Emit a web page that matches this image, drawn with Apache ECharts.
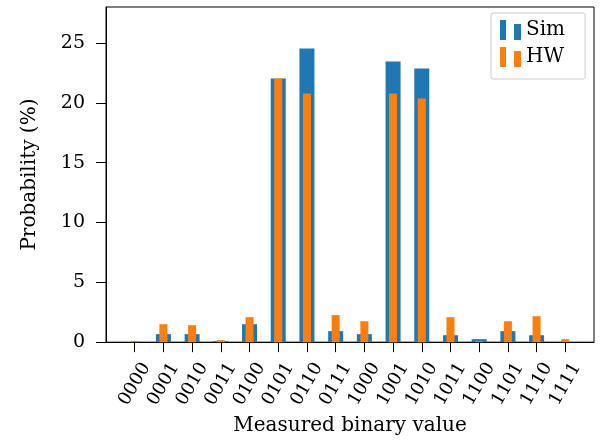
<!DOCTYPE html>
<html>
<head>
<meta charset="utf-8">
<script src="https://cdn.jsdelivr.net/npm/echarts@6/dist/echarts.min.js"></script>
<style>
html,body{margin:0;padding:0;background:#fff;}
#chart{width:612px;height:441px;}
</style>
</head>
<body>
<div id="chart"></div>
<script>
var categories = ['0000','0001','0010','0011','0100','0101','0110','0111','1000','1001','1010','1011','1100','1101','1110','1111'];
var simValues = [0.0, 0.67, 0.67, 0.08, 1.5, 22.03, 24.54, 0.92, 0.67, 23.45, 22.87, 0.58, 0.25, 0.92, 0.58, 0.0];
var hwValues  = [0.1, 1.5, 1.42, 0.17, 2.09, 22.03, 20.78, 2.26, 1.75, 20.78, 20.36, 2.09, 0.08, 1.75, 2.17, 0.25];
var yTicks = [0, 5, 10, 15, 20, 25];

var FONT = 'DejaVu Serif';
var idx = categories.map(function (c, i) { return i; });
var simData = simValues.map(function (v, i) { return [i, v]; });
var hwData = hwValues.map(function (v, i) { return [i, v]; });

var chart = echarts.init(document.getElementById('chart'), null, {renderer: 'canvas'});
var xBase = {
  type: 'value', min: -1, max: 16, interval: 1,
  splitLine: {show: false}
};
chart.setOption({
  animation: false,
  backgroundColor: '#fff',
  textStyle: {fontFamily: FONT, color: '#000'},
  grid: {left: 106, right: 18, top: 7, bottom: 98, show: true, borderColor: '#000', borderWidth: 1, backgroundColor: 'transparent'},
  legend: {
    orient: 'vertical', left: 491, top: 13,
    padding: [7, 20, 12, 9],
    itemGap: 7, itemWidth: 21, itemHeight: 20,
    backgroundColor: '#fff', borderColor: '#cccccc', borderWidth: 1, borderRadius: 2,
    textStyle: {fontFamily: FONT, fontSize: 20, color: '#000'},
    data: [
      {name: 'Sim', icon: 'path://M0,0h6v20h-6zM14,4h7v16h-7z'},
      {name: 'HW', icon: 'path://M0,0h6v20h-6zM14,4h7v16h-7z'}
    ]
  },
  xAxis: [
    Object.assign({}, xBase, {
      name: 'Measured binary value', nameLocation: 'middle', nameGap: 70,
      nameTextStyle: {fontFamily: FONT, fontSize: 20, color: '#000'},
      axisLine: {onZero: false, lineStyle: {color: '#000', width: 1}},
      axisTick: {show: true, length: 10, inside: false, customValues: idx, lineStyle: {color: '#000', width: 1}},
      axisLabel: {
        customValues: idx, rotate: 60, align: 'center', verticalAlign: 'middle', margin: 42,
        fontFamily: FONT, fontSize: 18, color: '#000',
        formatter: function (v) { return categories[v] !== undefined ? categories[v] : ''; }
      }
    }),
    Object.assign({}, xBase, {show: false})
  ],
  yAxis: {
    type: 'value', min: 0, max: 28, interval: 5,
    name: 'Probability (%)', nameLocation: 'middle', nameGap: 66,
    nameTextStyle: {fontFamily: FONT, fontSize: 20, color: '#000'},
    splitLine: {show: false},
    axisLine: {show: true, onZero: false, lineStyle: {color: '#000', width: 1}},
    axisTick: {show: true, length: 10, inside: false, customValues: yTicks, lineStyle: {color: '#000', width: 1}},
    axisLabel: {customValues: yTicks, margin: 21, fontFamily: FONT, fontSize: 19, color: '#000'}
  },
  series: [
    {name: 'Sim', type: 'bar', xAxisIndex: 0, barWidth: 15, data: simData, itemStyle: {color: '#1f77b4'}, z: 2},
    {name: 'HW', type: 'bar', xAxisIndex: 1, barWidth: 8, data: hwData, itemStyle: {color: '#ff7f0e'}, z: 3}
  ]
});
</script>
</body>
</html>
